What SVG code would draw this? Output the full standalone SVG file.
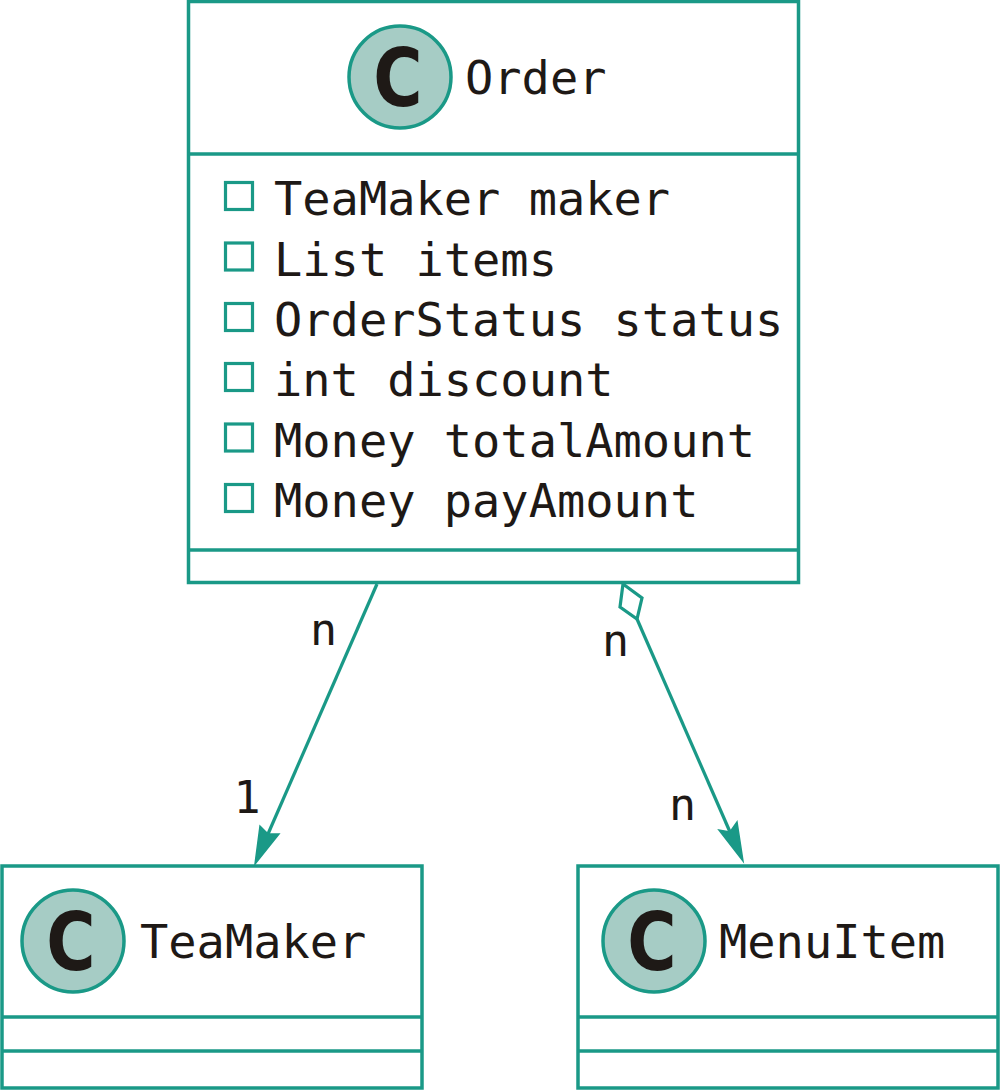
<svg xmlns="http://www.w3.org/2000/svg" width="1000" height="1091" viewBox="0 0 1000 1091">
<style>
.box{fill:#fff;stroke:#1A9987;stroke-width:3.5}
.div{stroke:#1A9987;stroke-width:3.5}
.spot{fill:#A6CCC5;stroke:#1A9987;stroke-width:3.5}
.spotc{font-family:"DejaVu Sans",sans-serif;font-weight:bold;font-size:80px;fill:#1E1916;text-anchor:middle}
.name{font-family:"DejaVu Sans Mono",monospace;font-size:47px;fill:#1E1916}
.attr{font-family:"DejaVu Sans Mono",monospace;font-size:47px;fill:#1E1916}
.vis{fill:#fff;stroke:#1A9987;stroke-width:3.2}
.line{stroke:#1A9987;stroke-width:3.2;fill:none}
.head{fill:#1A9987;stroke:#1A9987;stroke-width:1.5;stroke-linejoin:miter}
.dia{fill:#fff;stroke:#1A9987;stroke-width:3.2}
.lbl{font-family:"DejaVu Sans Mono",monospace;font-size:45px;fill:#1E1916}
</style>
<rect width="1000" height="1091" fill="#fff"/>
<g id="Order">
<rect class="box" x="188.5" y="1.5" width="610" height="581"/>
<line class="div" x1="188.5" y1="154" x2="798.5" y2="154"/>
<line class="div" x1="188.5" y1="550" x2="798.5" y2="550"/>
<circle class="spot" cx="400" cy="77" r="51"/>
<text class="spotc" transform="translate(398,106) scale(0.84,1)">C</text>
<text class="name" x="465" y="94">Order</text>
<rect class="vis" x="225.5" y="182.5" width="27" height="27"/>
<text class="attr" x="274" y="215">TeaMaker maker</text>
<rect class="vis" x="225.5" y="243" width="27" height="27"/>
<text class="attr" x="274" y="275.5">List items</text>
<rect class="vis" x="225.5" y="303.5" width="27" height="27"/>
<text class="attr" x="274" y="336">OrderStatus status</text>
<rect class="vis" x="225.5" y="363.5" width="27" height="27"/>
<text class="attr" x="274" y="396">int discount</text>
<rect class="vis" x="225.5" y="424" width="27" height="27"/>
<text class="attr" x="274" y="456.5">Money totalAmount</text>
<rect class="vis" x="225.5" y="484.5" width="27" height="27"/>
<text class="attr" x="274" y="517">Money payAmount</text>
</g>
<g id="TeaMaker">
<rect class="box" x="2" y="866" width="420" height="222"/>
<line class="div" x1="2" y1="1017" x2="422" y2="1017"/>
<line class="div" x1="2" y1="1051" x2="422" y2="1051"/>
<circle class="spot" cx="73" cy="941" r="51"/>
<text class="spotc" transform="translate(71,970) scale(0.84,1)">C</text>
<text class="name" x="140" y="958">TeaMaker</text>
</g>
<g id="MenuItem">
<rect class="box" x="578" y="866" width="420" height="222"/>
<line class="div" x1="578" y1="1017" x2="998" y2="1017"/>
<line class="div" x1="578" y1="1051" x2="998" y2="1051"/>
<circle class="spot" cx="654" cy="941" r="51"/>
<text class="spotc" transform="translate(652,970) scale(0.84,1)">C</text>
<text class="name" x="719" y="958">MenuItem</text>
</g>
<g id="connectors">
<line class="line" x1="377" y1="584" x2="268" y2="834"/>
<polygon class="head" points="255,864 260,826 268,834 279,834"/>
<text class="lbl" x="310" y="645">n</text>
<text class="lbl" x="247" y="813" text-anchor="middle">1</text>
<polygon class="dia" points="623,584 642,598 637,619 620,607"/>
<line class="line" x1="637" y1="619" x2="730" y2="832"/>
<polygon class="head" points="743,861 737,822 730,832 719,830"/>
<text class="lbl" x="602" y="656">n</text>
<text class="lbl" x="669" y="820">n</text>
</g>
</svg>
